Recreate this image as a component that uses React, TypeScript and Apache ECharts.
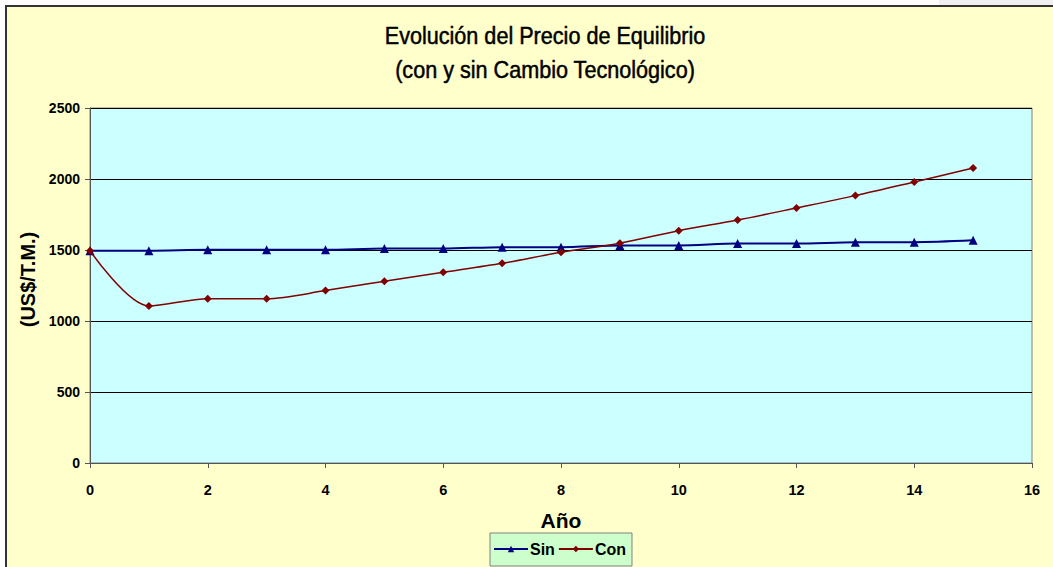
import React, { useEffect, useRef } from "react";
import * as echarts from "echarts";

// Año (years) shared by both series
const years = [0, 1, 2, 3, 4, 5, 6, 7, 8, 9, 10, 11, 12, 13, 14, 15];
// Equilibrium price without technological change (US$/T.M.)
const sinValues = [1495, 1495, 1502, 1502, 1502, 1510, 1510, 1520, 1520, 1532, 1532, 1545, 1545, 1555, 1555, 1568];
// Equilibrium price with technological change (US$/T.M.)
const conValues = [1495, 1106, 1157, 1157, 1214, 1280, 1343, 1406, 1484, 1548, 1636, 1711, 1796, 1883, 1979, 2077];
const xTicks = { min: 0, max: 16, interval: 2 };
const yTicks = { min: 0, max: 2500, interval: 500 };
const titleLines = ["Evolución del Precio de Equilibrio", "(con y sin Cambio Tecnológico)"];

const FONT = '"Liberation Sans", Arial, sans-serif';

export default function App() {
  const ref = useRef<HTMLDivElement>(null);

  useEffect(() => {
    if (!ref.current) return;
    const chart = echarts.init(ref.current, undefined, { renderer: "svg" });
    const pairs = (vals: number[]) => years.map((y, i) => [y, vals[i]]);

    // Title drawn as horizontally condensed text
    const titleText = titleLines.map((t, i) => ({
      type: "text",
      x: 545,
      y: 36 + i * 33.4,
      scaleX: 0.9,
      style: {
        text: t,
        fontFamily: FONT,
        fontSize: 24,
        fontWeight: "normal",
        fill: "#000",
        stroke: "#000",
        lineWidth: 0.5,
        align: "center",
        verticalAlign: "middle",
      },
      z: 10,
    }));

    chart.setOption({
      animation: false,
      backgroundColor: "#FFFFCC",
      graphic: [
        // page margin around the chart frame
        { type: "rect", shape: { x: 0, y: 0, width: 1053, height: 5 }, style: { fill: "#FFFFFF" }, z: 100 },
        { type: "rect", shape: { x: 0, y: 0, width: 5, height: 567 }, style: { fill: "#FFFFFF" }, z: 100 },
        { type: "rect", shape: { x: 939, y: 0, width: 114, height: 5 }, style: { fill: "#F0F0F0" }, z: 101 },
        // chart frame (top and left edges)
        { type: "line", shape: { x1: 5, y1: 6, x2: 1053, y2: 6 }, style: { stroke: "#333", lineWidth: 2 }, z: 102 },
        { type: "line", shape: { x1: 6, y1: 5, x2: 6, y2: 567 }, style: { stroke: "#333", lineWidth: 2 }, z: 102 },
        ...titleText,
      ],
      grid: {
        left: 90,
        right: 21,
        top: 108,
        bottom: 104,
        show: true,
        backgroundColor: "#CCFFFF",
        borderColor: "#808080",
        borderWidth: 1,
      },
      legend: {
        data: ["Sin", "Con"],
        left: 490,
        top: 533,
        backgroundColor: "#CCFFCC",
        borderColor: "#808080",
        borderWidth: 1,
        padding: [8, 6, 9, 3],
        itemGap: 3,
        itemWidth: 34,
        itemHeight: 8,
        textStyle: { fontFamily: FONT, fontSize: 16, fontWeight: "bold", color: "#000", padding: [0, 0, 0, -3] },
      },
      xAxis: {
        type: "value",
        ...xTicks,
        name: "Año",
        nameLocation: "middle",
        nameGap: 47,
        nameTextStyle: { fontFamily: FONT, fontSize: 21, fontWeight: "bold", color: "#000" },
        axisLine: { show: true, lineStyle: { color: "#555", width: 1 } },
        axisTick: { show: true, inside: false, length: 5, lineStyle: { color: "#555" } },
        axisLabel: { margin: 19, fontFamily: FONT, fontSize: 14.5, fontWeight: "bold", color: "#000" },
        splitLine: { show: false },
      },
      yAxis: {
        type: "value",
        ...yTicks,
        name: "(US$/T.M.)",
        nameLocation: "middle",
        nameRotate: 90,
        nameGap: 43,
        nameTextStyle: { fontFamily: FONT, fontSize: 20, fontWeight: "bold", color: "#000", padding: [0, 0, 0, 12] },
        axisLine: { show: true, lineStyle: { color: "#555", width: 1 } },
        axisTick: { show: true, inside: false, length: 5, lineStyle: { color: "#555" } },
        axisLabel: {
          margin: 10,
          fontFamily: FONT,
          fontSize: 14,
          fontWeight: "bold",
          color: "#000",
          formatter: (v: number) => String(v),
        },
        splitLine: { show: true, lineStyle: { color: "#000", width: 1 } },
      },
      series: [
        {
          name: "Sin",
          type: "line",
          data: pairs(sinValues),
          smooth: 0.3,
          symbol: "triangle",
          symbolSize: 9,
          itemStyle: { color: "#000080" },
          lineStyle: { color: "#000080", width: 2 },
          z: 3,
        },
        {
          name: "Con",
          type: "line",
          data: pairs(conValues),
          smooth: 0.3,
          symbol: "diamond",
          symbolSize: 8,
          itemStyle: { color: "#800000" },
          lineStyle: { color: "#800000", width: 1.5 },
          z: 4,
        },
      ],
    });

    return () => chart.dispose();
  }, []);

  return (
    <div
      ref={ref}
      style={{ position: "fixed", left: 0, top: 0, width: 1053, height: 567 }}
    />
  );
}
